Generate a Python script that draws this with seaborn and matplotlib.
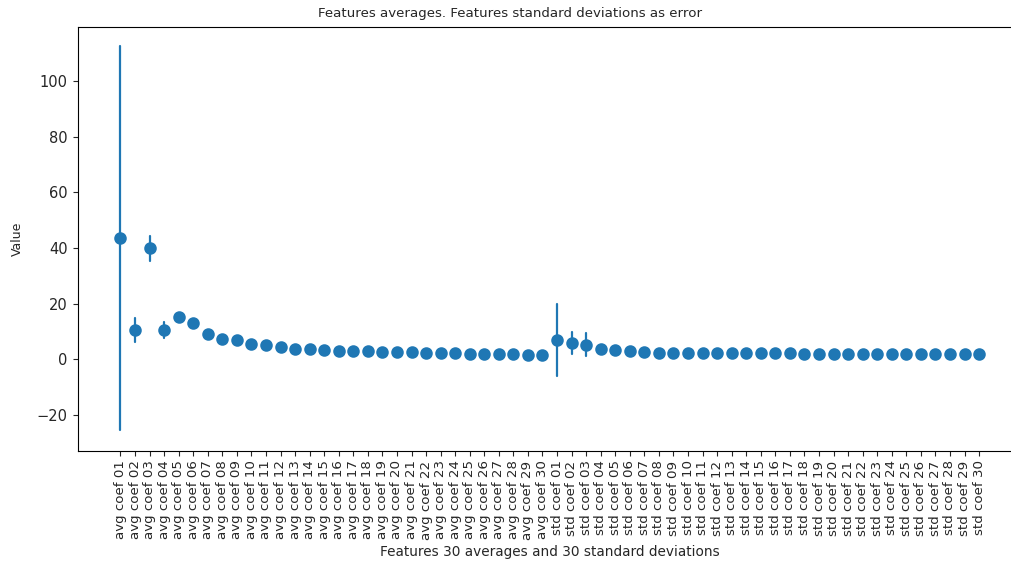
import numpy as np
import pandas as pd
import matplotlib
matplotlib.use("Agg")
import matplotlib.pyplot as plt
import seaborn as sns

# Feature labels: 30 coefficient averages followed by 30 coefficient standard deviations
avg_labels = [f"avg coef {i:02d}" for i in range(1, 31)]
std_labels = [f"std coef {i:02d}" for i in range(1, 31)]
labels = avg_labels + std_labels

# Mean value of each feature
avg_means = [43.5, 10.5, 39.9, 10.5, 15.3, 13.2, 9.2, 7.4, 6.9, 5.7,
             5.1, 4.3, 3.9, 3.8, 3.4, 3.2, 3.0, 2.9, 2.7, 2.6,
             2.5, 2.3, 2.2, 2.2, 2.1, 1.9, 1.8, 1.8, 1.7, 1.7]
std_means = [6.9, 5.9, 5.3, 3.8, 3.4, 2.9, 2.6, 2.4, 2.4, 2.4,
             2.4, 2.3, 2.3, 2.3, 2.3, 2.3, 2.2, 2.1, 2.1, 2.1,
             2.1, 2.1, 2.1, 2.1, 2.1, 2.1, 2.0, 2.0, 2.0, 2.0]

# Standard deviation of each feature (drawn as the error bar half-length)
avg_errs = [69.0, 4.4, 4.6, 2.9, 1.5, 1.2, 1.0, 0.9, 0.8, 0.7,
            0.7, 0.6, 0.6, 0.6, 0.5, 0.5, 0.5, 0.5, 0.5, 0.5,
            0.5, 0.5, 0.5, 0.5, 0.5, 0.5, 0.5, 0.5, 0.5, 0.5]
std_errs = [12.9, 3.9, 4.2, 1.5, 1.2, 1.0, 0.9, 0.8, 0.8, 0.7,
            0.7, 0.7, 0.7, 0.7, 0.7, 0.7, 0.6, 0.6, 0.6, 0.6,
            0.6, 0.6, 0.6, 0.6, 0.6, 0.6, 0.6, 0.6, 0.6, 0.6]

means = np.array(avg_means + std_means)
errs = np.array(avg_errs + std_errs)

# Long form: each feature contributes its lower and upper bound; the mean of the
# pair is the feature average and the full range is mean +/- std.
df = pd.DataFrame({
    "feature": labels * 2,
    "value": np.concatenate([means - errs, means + errs]),
})

sns.set_theme(style="ticks", rc={"axes.facecolor": "white", "figure.facecolor": "white"})
plt.rcParams["font.family"] = ["DejaVu Sans"]

fig = plt.figure(figsize=(10.12, 5.66), dpi=100)
ax = fig.add_axes([0.0766, 0.2037, 0.9333, 0.7483])

sns.pointplot(
    data=df, x="feature", y="value", order=labels,
    estimator="mean", errorbar=("pi", 100),
    linestyle="none", marker="o", markersize=7,
    color="#1f77b4", err_kws={"linewidth": 1.6},
    ax=ax,
)

ax.set_xlim(-2.95, 61.95)
ax.set_ylim(-32.8, 119.4)
ax.set_yticks([-20, 0, 20, 40, 60, 80, 100])
ax.tick_params(axis="y", labelsize=10.5, length=3.5, width=0.8)
ax.tick_params(axis="x", labelsize=9.6, length=3.5, width=0.8, rotation=90)
for s in ax.spines.values():
    s.set_linewidth(0.8)
    s.set_color("black")
ax.spines["right"].set_visible(False)

fig.suptitle("Features averages. Features standard deviations as error",
             fontsize=9.6, x=0.504, y=0.977, va="center")
ax.set_xlabel("Features 30 averages and 30 standard deviations", fontsize=9.8, labelpad=4)
ax.set_ylabel("Value", fontsize=9, labelpad=9)

fig.savefig("out.png", dpi=100)
